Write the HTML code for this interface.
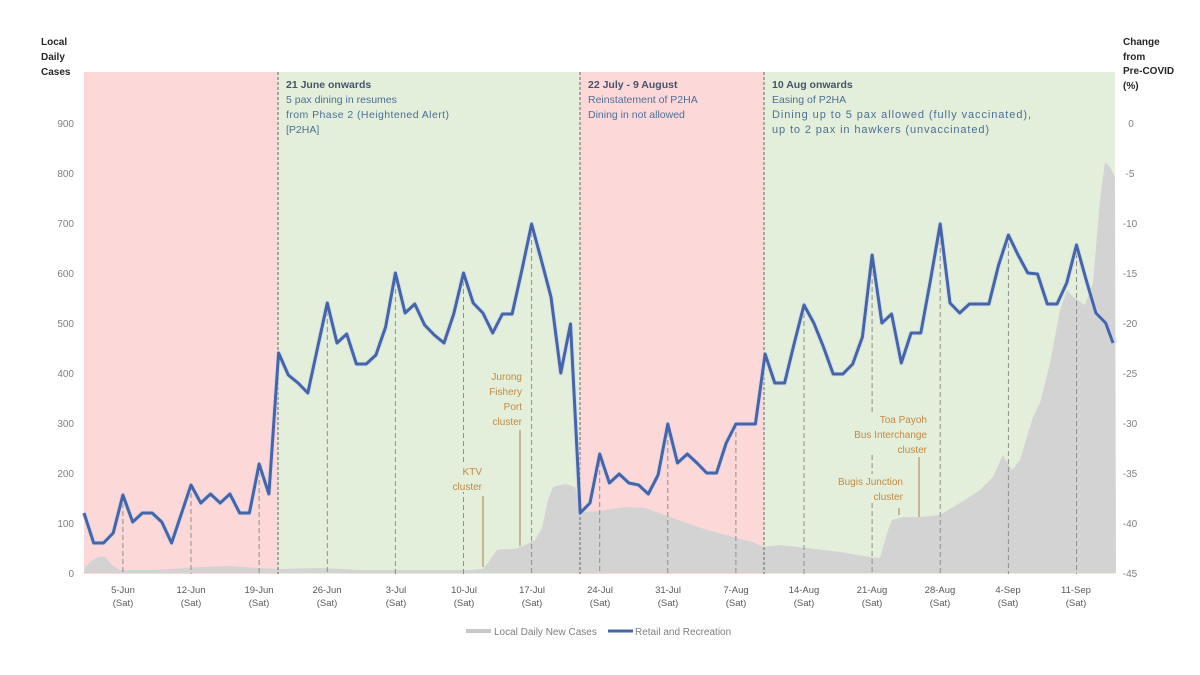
<!DOCTYPE html>
<html><head><meta charset="utf-8"><style>
html,body{margin:0;padding:0;background:#fff;}
svg{display:block;font-family:"Liberation Sans",sans-serif;}
</style></head><body>
<svg width="1200" height="675" viewBox="0 0 1200 675" xmlns="http://www.w3.org/2000/svg">
<rect x="0" y="0" width="1200" height="675" fill="#ffffff"/>
<!-- backgrounds -->
<rect x="84" y="72" width="194" height="502" fill="#fdd8d9"/>
<rect x="278" y="72" width="302" height="502" fill="#e3efda"/>
<rect x="580" y="72" width="184" height="502" fill="#fdd8d9"/>
<rect x="764" y="72" width="351" height="502" fill="#e3efda"/>
<!-- grey area -->
<polygon fill="#d3d3d3" points="84,573 84,568 90,562 98,557 105,557 112,565 120,570 150,570 170,569 200,567 230,566 260,568 280,569 320,568 360,570 420,570 470,570 483,569 490,560 497,550 505,549 515,549 525,545 535,540 542,528 548,500 553,487 565,484 575,487 579,500 582,512 600,511 625,507 645,508 673,518 707,530 733,537 753,542 763,547 780,545 807,548 840,552 870,557 880,558 888,530 892,520 903,517 920,517 940,515 960,503 980,490 993,477 1003,455 1012,470 1020,460 1033,417 1040,403 1050,363 1060,310 1067,290 1073,297 1085,305 1093,283 1100,200 1105,162 1110,167 1115,177 1116,573"/>
<!-- boundary dashed lines -->
<g stroke="#7a7a7a" stroke-width="1.2" stroke-dasharray="3,2">
<line x1="278" y1="72" x2="278" y2="574"/>
<line x1="580" y1="72" x2="580" y2="574"/>
<line x1="764" y1="72" x2="764" y2="574"/>
</g>
<!-- saturday dashed lines -->
<g stroke="#8e8e8e" stroke-width="1" stroke-dasharray="5,3">
<line x1="122.9" y1="495" x2="122.9" y2="574"/>
<line x1="191" y1="485" x2="191" y2="574"/>
<line x1="259.1" y1="464" x2="259.1" y2="574"/>
<line x1="327.3" y1="303" x2="327.3" y2="574"/>
<line x1="395.4" y1="273" x2="395.4" y2="574"/>
<line x1="463.5" y1="273" x2="463.5" y2="574"/>
<line x1="531.6" y1="224" x2="531.6" y2="574"/>
<line x1="599.7" y1="454" x2="599.7" y2="574"/>
<line x1="667.8" y1="424" x2="667.8" y2="574"/>
<line x1="735.9" y1="424" x2="735.9" y2="574"/>
<line x1="804" y1="305" x2="804" y2="574"/>
<line x1="872.1" y1="255" x2="872.1" y2="574"/>
<line x1="940.2" y1="224" x2="940.2" y2="574"/>
<line x1="1008.4" y1="235" x2="1008.4" y2="574"/>
<line x1="1076.5" y1="245" x2="1076.5" y2="574"/>
</g>
<!-- annotations (brown) -->
<g font-size="10" fill="#c48a44" text-anchor="end">
<rect x="484" y="369" width="40" height="58" fill="#e3efda"/>
<text x="522" y="380">Jurong</text>
<text x="522" y="395">Fishery</text>
<text x="522" y="410">Port</text>
<text x="522" y="425">cluster</text>
<rect x="446" y="464" width="38" height="28" fill="#e3efda"/>
<text x="482" y="475">KTV</text>
<text x="482" y="490">cluster</text>
<rect x="834" y="412" width="95" height="42" fill="#e3efda"/>
<text x="927" y="423">Toa Payoh</text>
<text x="927" y="438">Bus Interchange</text>
<text x="927" y="453">cluster</text>
<rect x="828" y="474" width="77" height="28" fill="#e3efda"/>
<text x="903" y="485">Bugis Junction</text>
<text x="903" y="500">cluster</text>
</g>
<g stroke="#b99868" stroke-width="1.3">
<line x1="520" y1="430" x2="520" y2="546"/>
<line x1="483" y1="496" x2="483" y2="567"/>
<line x1="919" y1="457" x2="919" y2="517"/>
<line x1="899" y1="508" x2="899" y2="515"/>
</g>
<!-- series line -->
<polyline fill="none" stroke="#c9d6ef" stroke-width="5" stroke-linejoin="round" opacity="0.6" points="84,513 93.7,543 103.5,543 113.2,533 122.9,495 132.7,522 142.4,513 152.1,513 161.8,522 171.6,543 181.3,514 191,485 200.8,503 210.5,494 220.2,503 229.9,494 239.7,513 249.4,513 259.1,464 268.9,494 278.6,353 288.3,375 298.1,383 307.8,393 317.5,348 327.3,303 337,343 346.7,334 356.4,364 366.2,364 375.9,355 385.6,327 395.4,273 405.1,313 414.8,304 424.6,325 434.3,335 444,343 453.7,314 463.5,273 473.2,303 482.9,313 492.7,333 502.4,314 512.1,314 521.9,270 531.6,224 541.3,260 551,297 560.8,373 570.5,324 580.2,513 590,503 599.7,454 609.4,483 619.2,474 628.9,483 638.6,485 648.3,494 658.1,475 667.8,424 677.5,463 687.3,454 697,463 706.7,473 716.5,473 726.2,443 735.9,424 745.6,424 755.4,424 765.1,354 774.8,383 784.6,383 794.3,343 804,305 813.8,323 823.5,347 833.2,374 842.9,374 852.7,364 862.4,337 872.1,255 881.9,323 891.6,314 901.3,363 911.1,333 920.8,333 930.5,280 940.2,224 950,303 959.7,313 969.4,304 979.2,304 988.9,304 998.6,265 1008.4,235 1018.1,255 1027.8,273 1037.5,274 1047.3,304 1057,304 1066.7,283 1076.5,245 1086.2,280 1095.9,313 1105.7,323 1115.4,343"/>
<polyline fill="none" stroke="#4565a8" stroke-width="3" stroke-linejoin="round" points="84,513 93.7,543 103.5,543 113.2,533 122.9,495 132.7,522 142.4,513 152.1,513 161.8,522 171.6,543 181.3,514 191,485 200.8,503 210.5,494 220.2,503 229.9,494 239.7,513 249.4,513 259.1,464 268.9,494 278.6,353 288.3,375 298.1,383 307.8,393 317.5,348 327.3,303 337,343 346.7,334 356.4,364 366.2,364 375.9,355 385.6,327 395.4,273 405.1,313 414.8,304 424.6,325 434.3,335 444,343 453.7,314 463.5,273 473.2,303 482.9,313 492.7,333 502.4,314 512.1,314 521.9,270 531.6,224 541.3,260 551,297 560.8,373 570.5,324 580.2,513 590,503 599.7,454 609.4,483 619.2,474 628.9,483 638.6,485 648.3,494 658.1,475 667.8,424 677.5,463 687.3,454 697,463 706.7,473 716.5,473 726.2,443 735.9,424 745.6,424 755.4,424 765.1,354 774.8,383 784.6,383 794.3,343 804,305 813.8,323 823.5,347 833.2,374 842.9,374 852.7,364 862.4,337 872.1,255 881.9,323 891.6,314 901.3,363 911.1,333 920.8,333 930.5,280 940.2,224 950,303 959.7,313 969.4,304 979.2,304 988.9,304 998.6,265 1008.4,235 1018.1,255 1027.8,273 1037.5,274 1047.3,304 1057,304 1066.7,283 1076.5,245 1086.2,280 1095.9,313 1105.7,323 1113,343"/>
<!-- top annotations -->
<g font-size="10.5">
<text x="286" y="88" font-weight="bold" fill="#44546a">21 June onwards</text>
<text x="286" y="103" fill="#4e6f95">5 pax dining in resumes</text>
<text x="286" y="118" fill="#4e6f95" textLength="163" lengthAdjust="spacing">from Phase 2 (Heightened Alert)</text>
<text x="286" y="133" fill="#4e6f95">[P2HA]</text>
<text x="588" y="88" font-weight="bold" fill="#44546a">22 July - 9 August</text>
<text x="588" y="103" fill="#4e6f95">Reinstatement of P2HA</text>
<text x="588" y="118" fill="#4e6f95">Dining in not allowed</text>
<text x="772" y="88" font-weight="bold" fill="#44546a">10 Aug onwards</text>
<text x="772" y="103" fill="#4e6f95">Easing of P2HA</text>
<text x="772" y="118" fill="#4e6f95" font-size="11" textLength="259" lengthAdjust="spacing">Dining up to 5 pax allowed (fully vaccinated),</text>
<text x="772" y="133" fill="#4e6f95" font-size="11" textLength="217" lengthAdjust="spacing">up to 2 pax in hawkers (unvaccinated)</text>
</g>
<!-- axis titles -->
<g font-size="10" font-weight="bold" fill="#262626">
<text x="41" y="45">Local</text>
<text x="41" y="60">Daily</text>
<text x="41" y="75">Cases</text>
<text x="1123" y="45">Change</text>
<text x="1123" y="60">from</text>
<text x="1123" y="74">Pre-COVID</text>
<text x="1123" y="89">(%)</text>
</g>
<!-- left ticks -->
<g font-size="10" fill="#808080" text-anchor="end">
<text x="74" y="127">900</text>
<text x="74" y="177">800</text>
<text x="74" y="227">700</text>
<text x="74" y="277">600</text>
<text x="74" y="327">500</text>
<text x="74" y="377">400</text>
<text x="74" y="427">300</text>
<text x="74" y="477">200</text>
<text x="74" y="527">100</text>
<text x="74" y="577">0</text>
</g>
<!-- right ticks -->
<g font-size="10" fill="#808080" text-anchor="middle">
<text x="1131" y="127">0</text>
<text x="1130" y="177">-5</text>
<text x="1130" y="227">-10</text>
<text x="1130" y="277">-15</text>
<text x="1130" y="327">-20</text>
<text x="1130" y="377">-25</text>
<text x="1130" y="427">-30</text>
<text x="1130" y="477">-35</text>
<text x="1130" y="527">-40</text>
<text x="1130" y="577">-45</text>
</g>
<!-- x labels -->
<g font-size="9.5" fill="#595959" text-anchor="middle">
<text x="123" y="593">5-Jun</text><text x="123" y="606">(Sat)</text>
<text x="191" y="593">12-Jun</text><text x="191" y="606">(Sat)</text>
<text x="259" y="593">19-Jun</text><text x="259" y="606">(Sat)</text>
<text x="327" y="593">26-Jun</text><text x="327" y="606">(Sat)</text>
<text x="396" y="593">3-Jul</text><text x="396" y="606">(Sat)</text>
<text x="464" y="593">10-Jul</text><text x="464" y="606">(Sat)</text>
<text x="532" y="593">17-Jul</text><text x="532" y="606">(Sat)</text>
<text x="600" y="593">24-Jul</text><text x="600" y="606">(Sat)</text>
<text x="668" y="593">31-Jul</text><text x="668" y="606">(Sat)</text>
<text x="736" y="593">7-Aug</text><text x="736" y="606">(Sat)</text>
<text x="804" y="593">14-Aug</text><text x="804" y="606">(Sat)</text>
<text x="872" y="593">21-Aug</text><text x="872" y="606">(Sat)</text>
<text x="940" y="593">28-Aug</text><text x="940" y="606">(Sat)</text>
<text x="1008" y="593">4-Sep</text><text x="1008" y="606">(Sat)</text>
<text x="1076" y="593">11-Sep</text><text x="1076" y="606">(Sat)</text>
</g>
<!-- legend -->
<line x1="466" y1="631" x2="491" y2="631" stroke="#c8c8c8" stroke-width="4"/>
<text x="494" y="635" font-size="10" fill="#7f7f7f">Local Daily New Cases</text>
<line x1="608" y1="631" x2="633" y2="631" stroke="#4565a8" stroke-width="3"/>
<text x="635" y="635" font-size="10" fill="#7f7f7f">Retail and Recreation</text>
</svg>
</body></html>
